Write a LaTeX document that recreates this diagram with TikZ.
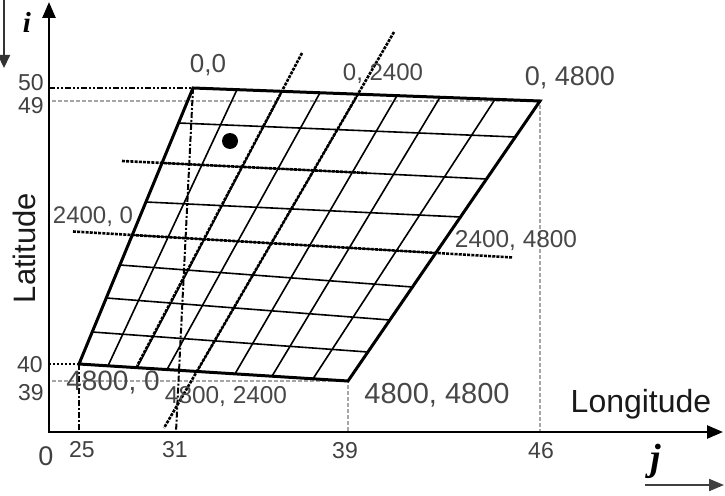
\documentclass[tikz,border=0pt]{standalone}
\usepackage{fontspec}
\setmainfont{Liberation Sans}
\newfontfamily\tmsfont{Liberation Serif}
\usetikzlibrary{arrows.meta,calc}
\begin{document}
\begin{tikzpicture}[x=1pt,y=-1pt,
  frame/.style={line width=3pt, line join=miter},
  gridline/.style={line width=1.6pt},
  thickdot/.style={line width=2.6pt, dash pattern=on 3pt off 1.2pt},
  ddot/.style={line width=2pt, dash pattern=on 6pt off 2pt on 2pt off 2pt on 2pt off 2pt},
  dashdot/.style={line width=2pt, dash pattern=on 6pt off 2pt on 2pt off 2pt},
  dots/.style={line width=2.2pt, dash pattern=on 2pt off 2pt},
  graydash/.style={line width=1.4pt, draw=black!35, dash pattern=on 4pt off 2pt},
  axis/.style={line width=2.6pt, {Triangle[length=16pt,width=13pt]}-{Triangle[length=16pt,width=13pt]}},
  lbl/.style={text=black!72, inner sep=0pt, anchor=base},
  tick/.style={text=black!75, inner sep=0pt, anchor=base, font=\fontsize{23}{26}\selectfont},
]
\useasboundingbox (0,0) rectangle (725,495);

% corners
\coordinate (TL) at (193,88);
\coordinate (TR) at (540,101);
\coordinate (BL) at (79,364);
\coordinate (BR) at (348,381);
% axis points
\coordinate (O) at (49,432);
\coordinate (Ytop) at (49,2);
\coordinate (Xend) at (723,432);
\coordinate (Y50) at (49,88);
\coordinate (Y49) at (52,101);
\coordinate (Y40) at (49,364);
\coordinate (Y39) at (52,381);
\coordinate (X25) at (79,432);
\coordinate (X31) at (176,432);
\coordinate (X39) at (348,432);
\coordinate (X46) at (540,432);

% gray dashed guide lines
\draw[graydash] (Y49) -- (TR) -- (X46);
\draw[graydash] (Y39) -- (BR) -- (X39);

% grid rows
\foreach \a/\b in {123/137,163/179,202/217,235/253,265/287,298/320,332/352}
  \draw[gridline] ($(TL)!{(\a-88)/276}!(BL)$) -- ($(TR)!{(\b-101)/280}!(BR)$);
% grid columns
\foreach \a/\b in {237/108,282/137,320/167,358/197,397/235,440/272,495/313}
  \draw[gridline] ($(TL)!{(\a-193)/347}!(TR)$) -- ($(BL)!{(\b-79)/269}!(BR)$);

% emphasised (dotted) grid lines with extensions
\coordinate (c2a) at (302,53);  \coordinate (c2b) at (137,366);
\coordinate (c4a) at (394,32);  \coordinate (c4b) at (164,428);
\coordinate (r2a) at (122,161); \coordinate (r2b) at (367,173);
\coordinate (r4a) at (73,231.5); \coordinate (r4b) at (513,257.5);
\draw[thickdot] (c2a) -- (c2b);
\draw[thickdot] (c4a) -- (c4b);
\draw[thickdot] (r2a) -- (r2b);
\draw[thickdot] (r4a) -- (r4b);

% frame
\draw[frame] (TL) -- (TR) -- (BR) -- (BL) -- cycle;

% dark guide lines
\draw[ddot] (Y50) -- (TL);
\draw[dashdot] (TL) -- (X31);
\draw[dots] (Y40) -- (BL);
\draw[dashdot] (BL) -- (X25);

% axes
\draw[axis] (Ytop) -- (O) -- (Xend);

% point
\fill (230,141) circle (8pt);

% corner / grid labels
\node[lbl, font=\fontsize{26}{30}\selectfont] (l00) at (208,72) {0,0};
\node[lbl, font=\fontsize{24}{28}\selectfont] (l02) at (383,80) {0, 2400};
\node[lbl, font=\fontsize{27}{30}\selectfont] (l04) at (570,85) {0, 4800};
\node[lbl, font=\fontsize{24}{28}\selectfont] (l20) at (93,223) {2400, 0};
\node[lbl, font=\fontsize{24.4}{28}\selectfont] (l24) at (516,247) {2400, 4800};
\node[lbl, font=\fontsize{28}{30}\selectfont] (l40) at (113,390) {4800, 0};
\node[lbl, font=\fontsize{24.4}{28}\selectfont] (l42) at (226,403) {4800, 2400};
\node[lbl, font=\fontsize{29}{32}\selectfont] (l44) at (437,403) {4800, 4800};

% tick labels
\node[tick] (t50) at (31,90) {50};
\node[tick] (t49) at (31,113) {49};
\node[tick] (t40) at (30,372) {40};
\node[tick] (t39) at (31,400) {39};
\node[tick] (t25) at (82,457) {25};
\node[tick] (t31) at (175,457) {31};
\node[tick] (tx39) at (345,458) {39};
\node[tick] (t46) at (541,458) {46};
\node[tick, font=\fontsize{27}{30}\selectfont] (t0) at (46,465) {0};

% axis titles
\node[inner sep=0pt, anchor=base, text=black!90, font=\fontsize{32}{36}\selectfont] (lon) at (641,412) {Longitude};
\node[inner sep=0pt, anchor=base, rotate=90, text=black!90, font=\fontsize{31}{36}\selectfont] (lat) at (35,248) {Latitude};

% index letters and arrows
\node[inner sep=0pt, anchor=base, font=\tmsfont\bfseries\itshape\fontsize{29}{30}\selectfont] (ii) at (27,33) {i};
\coordinate (ia) at (4,0);
\coordinate (ib) at (4,68);
\draw[line width=2pt, draw=black!80, -{Triangle[length=13pt,width=12pt]}] (ia) -- (ib);
\node[inner sep=0pt, anchor=base, font=\tmsfont\bfseries\itshape\fontsize{38}{40}\selectfont] (jj) at (656,470) {j};
\coordinate (ja) at (645,485);
\coordinate (jb) at (724,485);
\draw[line width=2pt, draw=black!75, -{Triangle[length=15pt,width=12pt]}] (ja) -- (jb);
\end{tikzpicture}
\end{document}
